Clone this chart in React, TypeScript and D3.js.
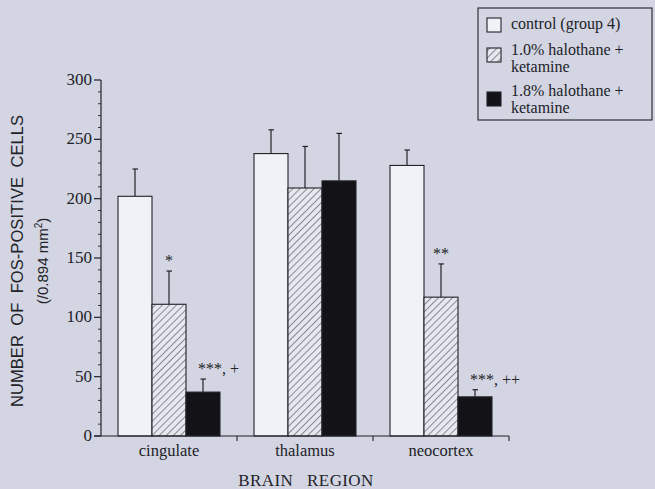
import React from "react";
import * as d3 from "d3";

// data
const regions = ["cingulate", "thalamus", "neocortex"];
const groups = ["control", "halo10", "halo18"];
const control = [202, 238, 228];
const controlErr = [225, 258, 241];
const halo10 = [111, 209, 117];
const halo10Err = [139, 244, 145];
const halo18 = [37, 215, 33];
const halo18Err = [48, 255, 39];
const yTicks = [0, 50, 100, 150, 200, 250, 300];
const marks = [
  ["", "*", "***, +"],
  ["", "", ""],
  ["", "**", "***, ++"],
];
const legendLines = [["control (group 4)"], ["1.0% halothane +", "ketamine"], ["1.8% halothane +", "ketamine"]];

const W = 655;
const H = 489;
const bg = "#d3d5e2";
const ink = "#222228";
const font = "'Liberation Serif', 'DejaVu Serif', serif";
const sans = "'Liberation Sans', Arial, sans-serif";

export default function App() {
  const x = d3.scaleBand().domain(regions).range([101, 509]).padding(0);
  const xi = d3.scaleBand().domain(groups).range([0, x.bandwidth()]).paddingInner(0).paddingOuter(0.5);
  const y = d3.scaleLinear().domain([0, 300]).range([436, 80]);
  const minor = d3.range(0, 301, 10).filter((v) => v % 50 !== 0);

  const vals = [control, halo10, halo18];
  const errs = [controlErr, halo10Err, halo18Err];
  const fills = ["#f1f2f7", "url(#hatch)", "#131317"];

  return (
    <svg width={W} height={H} style={{ position: "absolute", left: 0, top: 0, background: bg }} fontFamily={font}>
      <defs>
        <pattern id="hatch" patternUnits="userSpaceOnUse" width="5" height="5" patternTransform="rotate(45)">
          <rect width="5" height="5" fill="#e6e7ef" />
          <line x1="0" y1="0" x2="0" y2="5" stroke="#3a3a42" strokeWidth="1.1" />
        </pattern>
      </defs>
      <rect width={W} height={H} fill={bg} />

      {/* bars */}
      {regions.map((r, ri) =>
        groups.map((g, gi) => {
          const bx = (x(r) as number) + (xi(g) as number);
          const bw = xi.bandwidth();
          const cx = bx + bw / 2;
          const top = y(vals[gi][ri]);
          const et = y(errs[gi][ri]);
          const m = marks[ri][gi];
          return (
            <g key={r + g}>
              <rect x={bx} y={top} width={bw} height={y(0) - top} fill={fills[gi]} stroke={ink} strokeWidth={1.1} />
              <line x1={cx} x2={cx} y1={top} y2={et} stroke={ink} strokeWidth={1.2} />
              <line x1={cx - 2.5} x2={cx + 3} y1={et} y2={et} stroke={ink} strokeWidth={1.2} />
              {m && (
                <text
                  x={m.includes(",") ? cx - 5 : cx}
                  y={et - 5}
                  textAnchor={m.includes(",") ? "start" : "middle"}
                  fontSize={16}
                  fill={ink}
                >
                  {m}
                </text>
              )}
            </g>
          );
        })
      )}

      {/* y axis */}
      <line x1={101} x2={101} y1={y(0)} y2={y(300)} stroke={ink} strokeWidth={1.2} />
      {yTicks.map((t) => (
        <g key={t}>
          <line x1={94} x2={101} y1={y(t)} y2={y(t)} stroke={ink} strokeWidth={1.2} />
          <text x={92} y={y(t) + 5} textAnchor="end" fontSize={17} fill={ink}>
            {t}
          </text>
        </g>
      ))}
      {minor.map((t) => (
        <line key={t} x1={98} x2={101} y1={y(t)} y2={y(t)} stroke={ink} strokeWidth={0.9} />
      ))}

      {/* x axis */}
      <line x1={94} x2={509} y1={y(0)} y2={y(0)} stroke={ink} strokeWidth={1.2} />
      {regions.map((r) => (
        <g key={r}>
          <line x1={(x(r) as number) + x.bandwidth()} x2={(x(r) as number) + x.bandwidth()} y1={y(0)} y2={y(0) + 5} stroke={ink} strokeWidth={1.1} />
          <text x={(x(r) as number) + x.bandwidth() / 2} y={456} textAnchor="middle" fontSize={16.5} fill={ink}>
            {r}
          </text>
        </g>
      ))}
      <text x={306} y={486} textAnchor="middle" fontSize={17} fill={ink} letterSpacing={0.4} style={{ whiteSpace: "pre" }}>
        {"BRAIN   REGION"}
      </text>

      {/* y title */}
      <text
        transform="translate(23,261) rotate(-90)"
        textAnchor="middle"
        fontSize={16.5}
        fontFamily={sans}
        fill={ink}
        textLength={292}
        lengthAdjust="spacing"
        style={{ whiteSpace: "pre" }}
      >
        {"NUMBER  OF  FOS-POSITIVE  CELLS"}
      </text>
      <text transform="translate(48,261) rotate(-90)" textAnchor="middle" fontSize={15} fontFamily={sans} fill={ink}>
        (/0.894 mm<tspan dy={-6} fontSize={10}>2</tspan>
        <tspan dy={6}>)</tspan>
      </text>

      {/* legend */}
      <rect x={478} y={8} width={174} height={112} fill="none" stroke={ink} strokeWidth={1.1} />
      {groups.map((g, gi) => {
        const sy = [18, 48, 92][gi];
        const by = [29, 55, 96][gi];
        return (
          <g key={g}>
            <rect x={487} y={sy} width={14} height={14} fill={fills[gi]} stroke={ink} strokeWidth={1.1} />
            {legendLines[gi].map((l, li) => (
              <text key={li} x={511} y={by + li * 17} fontSize={16} fill={ink}>
                {l}
              </text>
            ))}
          </g>
        );
      })}
    </svg>
  );
}
